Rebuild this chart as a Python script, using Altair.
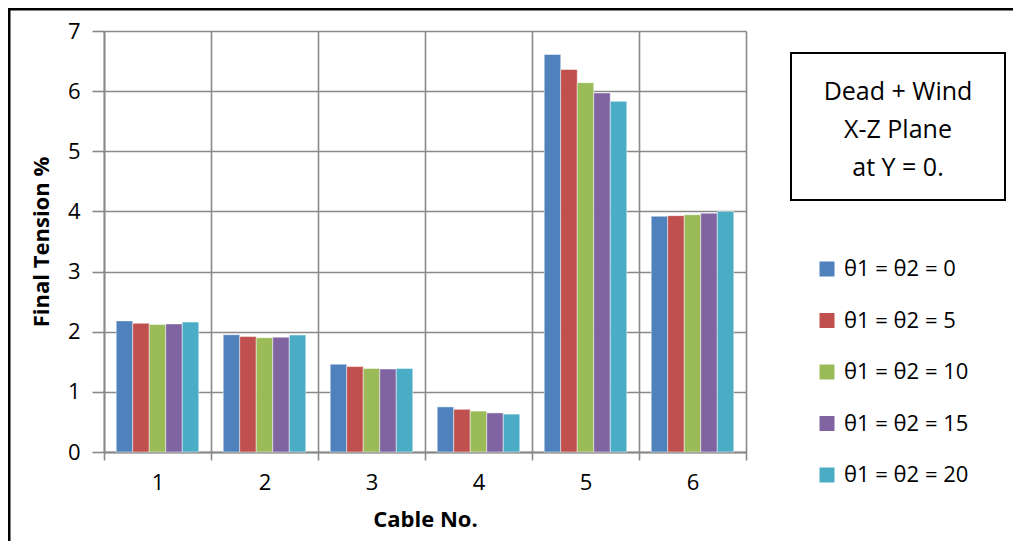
import altair as alt
import pandas as pd

cables = ["1", "2", "3", "4", "5", "6"]
series = ["θ1 = θ2 = 0", "θ1 = θ2 = 5", "θ1 = θ2 = 10", "θ1 = θ2 = 15", "θ1 = θ2 = 20"]
colors = ["#4F81BD", "#C0504D", "#9BBB59", "#8064A2", "#4BACC6"]

s0 = [2.18, 1.95, 1.46, 0.75, 6.61, 3.92]
s5 = [2.14, 1.92, 1.42, 0.71, 6.36, 3.93]
s10 = [2.12, 1.90, 1.39, 0.68, 6.14, 3.945]
s15 = [2.13, 1.91, 1.38, 0.65, 5.97, 3.97]
s20 = [2.16, 1.945, 1.39, 0.63, 5.83, 4.00]
values = [s0, s5, s10, s15, s20]

note_text = "Dead + Wind\nX-Z Plane\nat Y = 0."

rows = []
for name, vals in zip(series, values):
    for c, v in zip(cables, vals):
        rows.append({"cable": c, "series": name, "value": v})
df = pd.DataFrame(rows)

FONT = "Open Sans"
GRID = "#898989"

bars = alt.Chart(df).mark_bar(stroke="white", strokeWidth=0.8, strokeOpacity=0.6).encode(
    x=alt.X("cable:N", sort=cables,
            scale=alt.Scale(paddingInner=0, paddingOuter=0),
            axis=alt.Axis(title="Cable No.", labelAngle=0, tickBand="extent",
                          grid=True, gridColor=GRID, gridWidth=1.6,
                          domainColor=GRID, domainWidth=1.8, tickColor=GRID, tickWidth=1.6,
                          tickSize=8, labelFontSize=22, labelPadding=12, labelColor="#000",
                          labelFont=FONT, titleFont=FONT, titleFontSize=22, titleFontWeight="bold",
                          titleColor="#000", titlePadding=16)),
    xOffset=alt.XOffset("series:N", sort=series,
                        scale=alt.Scale(paddingInner=0, paddingOuter=0.74)),
    y=alt.Y("value:Q", scale=alt.Scale(domain=[0, 7], nice=False),
            axis=alt.Axis(title="Final Tension %", values=[0, 1, 2, 3, 4, 5, 6, 7],
                          grid=True, gridColor=GRID, gridWidth=1.6,
                          domainColor=GRID, domainWidth=1.8, tickColor=GRID, tickWidth=1.6,
                          tickSize=12, labelFontSize=22, labelPadding=12, labelColor="#000",
                          labelFont=FONT, titleFont=FONT, titleFontSize=22, titleFontWeight="bold",
                          titleColor="#000", titlePadding=14)),
    color=alt.Color("series:N", sort=series,
                    scale=alt.Scale(domain=series, range=colors),
                    legend=alt.Legend(title=None, orient="none", legendX=712, legendY=227,
                                      symbolType="square", symbolSize=225, symbolStrokeWidth=0,
                                      labelFontSize=22, labelFont=FONT, labelColor="#000",
                                      labelOffset=6, rowPadding=29.5, padding=0)),
)

note_df = pd.DataFrame({"note": [note_text]})

frame = alt.Chart(note_df).mark_rect(fill=None, stroke="black", strokeWidth=3).encode(
    x=alt.value(-95), x2=alt.value(930), y=alt.value(-22), y2=alt.value(530)
)

box = alt.Chart(note_df).mark_rect(fill="white", stroke="black", strokeWidth=2).encode(
    x=alt.value(687), x2=alt.value(901), y=alt.value(22), y2=alt.value(169)
)

note = alt.Chart(note_df).mark_text(
    font=FONT, fontSize=25, lineBreak="\n", lineHeight=38, align="center",
    baseline="middle", color="#000"
).encode(text="note:N", x=alt.value(794), y=alt.value(61))

chart = alt.layer(frame, bars, box, note).properties(
    width=642, height=421,
    autosize=alt.AutoSizeParams(type="none"),
    padding={"left": 96, "top": 23, "right": 267, "bottom": 89},
).configure_view(stroke="black", strokeWidth=1.8).configure(background="white")

chart.save("out.html", embed_options={"renderer": "svg", "actions": False})
